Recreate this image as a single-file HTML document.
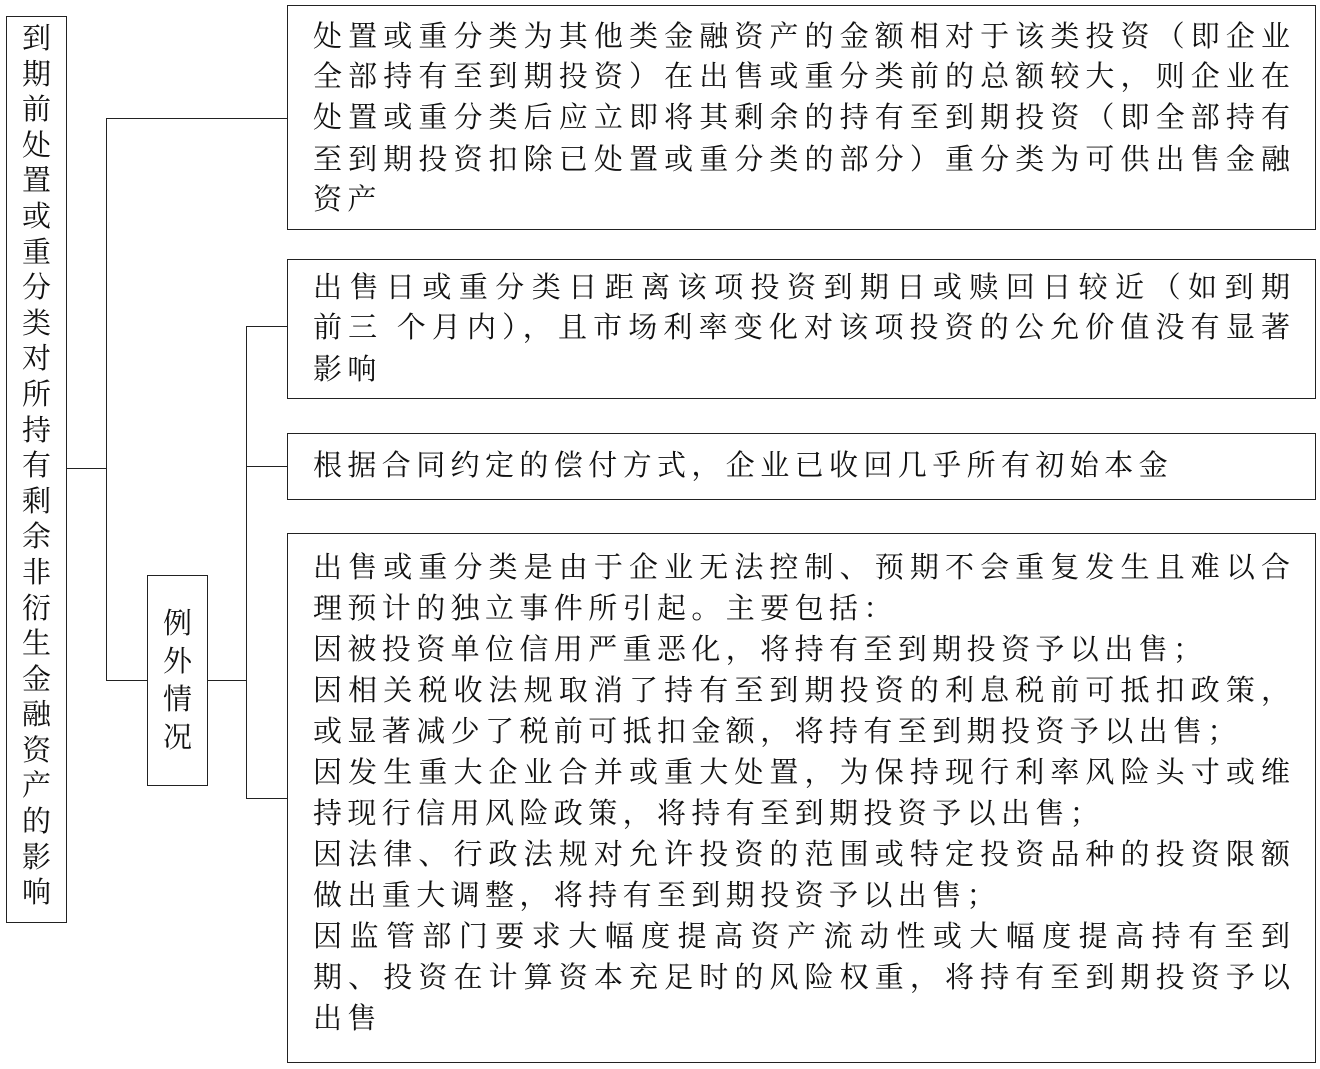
<!DOCTYPE html>
<html><head><meta charset="utf-8"><style>
body{margin:0;width:1320px;height:1069px;background:#fff;position:relative;overflow:hidden;font-family:"Liberation Serif","Noto Serif CJK SC",serif;color:#111}
.b{position:absolute;border:1.5px solid #222;box-sizing:border-box}
.h{position:absolute;height:0;border-top:1.5px solid #222}
.v{position:absolute;width:0;border-left:1.5px solid #222}
.l{position:absolute;left:313px;width:977px;font-size:29px;line-height:41px;height:41px;white-space:nowrap;text-align:justify;text-align-last:justify}
.s{text-align-last:left;letter-spacing:5.4px}
.vt{position:absolute;font-size:29px;line-height:35.6px;text-align:center}
</style></head><body>
<div class="b" style="left:6px;top:16px;width:61px;height:907px"></div>
<div class="vt" style="left:6px;top:22px;width:61px">到<br>期<br>前<br>处<br>置<br>或<br>重<br>分<br>类<br>对<br>所<br>持<br>有<br>剩<br>余<br>非<br>衍<br>生<br>金<br>融<br>资<br>产<br>的<br>影<br>响</div>
<div class="h" style="left:66px;top:468px;width:40px"></div>
<div class="v" style="left:106px;top:118px;height:563px"></div>
<div class="h" style="left:106px;top:118px;width:181px"></div>
<div class="h" style="left:106px;top:680px;width:41px"></div>
<div class="b" style="left:147px;top:575px;width:61px;height:211px"></div>
<div class="vt" style="left:147px;top:605px;width:61px;line-height:38px">例<br>外<br>情<br>况</div>
<div class="h" style="left:207px;top:680px;width:39px"></div>
<div class="v" style="left:246px;top:326px;height:473px"></div>
<div class="h" style="left:246px;top:326px;width:41px"></div>
<div class="h" style="left:246px;top:466px;width:41px"></div>
<div class="h" style="left:246px;top:798px;width:41px"></div>

<div class="b" style="left:287px;top:5px;width:1029px;height:225px"></div>
<div class="l" style="top:17px">处置或重分类为其他类金融资产的金额相对于该类投资（即企业</div>
<div class="l" style="top:57px">全部持有至到期投资）在出售或重分类前的总额较大，则企业在</div>
<div class="l" style="top:98px">处置或重分类后应立即将其剩余的持有至到期投资（即全部持有</div>
<div class="l" style="top:140px">至到期投资扣除已处置或重分类的部分）重分类为可供出售金融</div>
<div class="l s" style="top:180px">资产</div>

<div class="b" style="left:287px;top:259px;width:1029px;height:140px"></div>
<div class="l" style="top:268px">出售日或重分类日距离该项投资到期日或赎回日较近（如到期</div>
<div class="l" style="top:308px">前三 个月内），且市场利率变化对该项投资的公允价值没有显著</div>
<div class="l s" style="top:350px">影响</div>

<div class="b" style="left:287px;top:433px;width:1029px;height:67px"></div>
<div class="l s" style="top:446px">根据合同约定的偿付方式，企业已收回几乎所有初始本金</div>

<div class="b" style="left:287px;top:533px;width:1029px;height:530px"></div>
<div class="l" style="top:548px">出售或重分类是由于企业无法控制、预期不会重复发生且难以合</div>
<div class="l s" style="top:589px">理预计的独立事件所引起。主要包括：</div>
<div class="l s" style="top:630px">因被投资单位信用严重恶化，将持有至到期投资予以出售；</div>
<div class="l" style="top:671px">因相关税收法规取消了持有至到期投资的利息税前可抵扣政策，</div>
<div class="l s" style="top:712px">或显著减少了税前可抵扣金额，将持有至到期投资予以出售；</div>
<div class="l" style="top:753px">因发生重大企业合并或重大处置，为保持现行利率风险头寸或维</div>
<div class="l s" style="top:794px">持现行信用风险政策，将持有至到期投资予以出售；</div>
<div class="l" style="top:835px">因法律、行政法规对允许投资的范围或特定投资品种的投资限额</div>
<div class="l s" style="top:876px">做出重大调整，将持有至到期投资予以出售；</div>
<div class="l" style="top:917px">因监管部门要求大幅度提高资产流动性或大幅度提高持有至到</div>
<div class="l" style="top:958px">期、投资在计算资本充足时的风险权重，将持有至到期投资予以</div>
<div class="l s" style="top:999px">出售</div>
</body></html>
